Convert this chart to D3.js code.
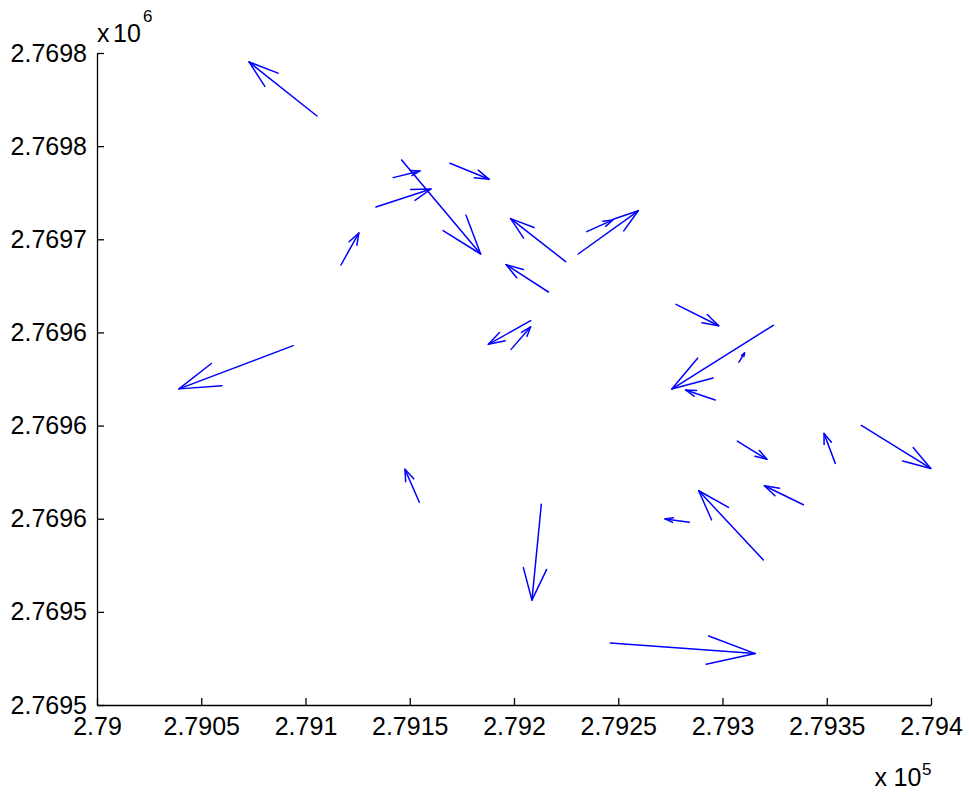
<!DOCTYPE html>
<html>
<head>
<meta charset="utf-8">
<script src="https://cdn.jsdelivr.net/npm/d3@7"></script>
<style>
  html, body { margin: 0; padding: 0; background: #fff; }
  svg { display: block; font-family: "Liberation Sans", Arial, Helvetica, sans-serif; }
</style>
</head>
<body>
<svg id="chart" width="969" height="792"></svg>
<script>
// Quiver data: tail positions (x, y) and displacement (u, v), data units
const xs = [279105.5, 279117.0, 279133.8, 279142.1, 279146.1, 279169.3, 279224.8, 279216.5,
            279230.8, 279234.9, 279208.0, 279198.6, 279277.7, 279324.4, 279307.9, 279296.5,
            279307.1, 279354.1, 279366.6, 279338.8, 279319.6, 279284.1, 279213.1, 279246.2,
            279094.1, 279154.6];
const ys = [2769816.2, 2769736.2, 2769767.3, 2769783.1, 2769792.6, 2769790.8, 2769738.0, 2769721.7,
            2769742.1, 2769754.1, 2769706.3, 2769690.9, 2769715.1, 2769703.8, 2769684.0, 2769663.7,
            2769641.6, 2769629.7, 2769650.1, 2769607.5, 2769577.8, 2769598.1, 2769607.7, 2769533.3,
            2769692.9, 2769608.8];
const us = [-32.6, 8.6, 26.4, 12.8, 37.9, 18.8, -26.4, -20.3,
            28.8, 12.5, -20.3, 9.4, 20.5, -48.7, 2.7, -14.2,
            14.2, -5.4, 33.3, -18.7, -31.0, -11.7, -4.5, 69.5,
            -54.8, -6.9];
const vs = [29.0, 17.2, 9.7, 3.6, -50.5, -8.6, 23.1, 14.7,
            23.2, 6.3, -12.7, 12.1, -11.5, -34.2, 5.0, 5.4,
            -9.7, 16.1, -23.1, 10.2, 37.2, 1.8, -51.4, -5.7,
            -23.2, 17.7];

const xTickValues = [279000, 279050, 279100, 279150, 279200, 279250, 279300, 279350, 279400];
const xTickLabels = ["2.79", "2.7905", "2.791", "2.7915", "2.792", "2.7925", "2.793", "2.7935", "2.794"];
const yTickValues = [2769500, 2769550, 2769600, 2769650, 2769700, 2769750, 2769800, 2769850];
const yTickLabels = ["2.7695", "2.7695", "2.7696", "2.7696", "2.7696", "2.7697", "2.7698", "2.7698"];

(function () {
const svg = d3.select("#chart");
const mLeft = 97, mRight = 931, mTop = 53, mBottom = 705;

const x = d3.scaleLinear().domain([279000, 279400]).range([mLeft, mRight]);
const y = d3.scaleLinear().domain([2769500, 2769850]).range([mBottom, mTop]);

// Arrows (MATLAB quiver style arrowheads computed in data units)
const alpha = 0.33, beta = 0.33;
const g = svg.append("g").attr("fill", "none").attr("stroke", "#0000ff")
  .attr("stroke-width", 1.5).attr("stroke-linecap", "round").attr("stroke-linejoin", "round");

xs.forEach((x0, i) => {
  const y0 = ys[i], u = us[i], v = vs[i];
  const hx = x0 + u, hy = y0 + v;
  g.append("line")
    .attr("x1", x(x0)).attr("y1", y(y0))
    .attr("x2", x(hx)).attr("y2", y(hy));
  const b1x = hx - alpha * (u + beta * v), b1y = hy - alpha * (v - beta * u);
  const b2x = hx - alpha * (u - beta * v), b2y = hy - alpha * (v + beta * u);
  g.append("path")
    .attr("d", `M${x(b1x)},${y(b1y)}L${x(hx)},${y(hy)}L${x(b2x)},${y(b2y)}`);
});

// Axes
const xAxis = d3.axisBottom(x).tickValues(xTickValues)
  .tickFormat((d, i) => xTickLabels[i]).tickSizeInner(-7).tickSizeOuter(0).tickPadding(12);
const yAxis = d3.axisLeft(y).tickValues(yTickValues)
  .tickFormat((d, i) => yTickLabels[i]).tickSizeInner(-7).tickSizeOuter(0).tickPadding(10);

const gx = svg.append("g").attr("transform", `translate(0,${mBottom})`).call(xAxis);
const gy = svg.append("g").attr("transform", `translate(${mLeft},0)`).call(yAxis);
[gx, gy].forEach(a => {
  a.selectAll("path, line").attr("stroke", "#000").attr("stroke-width", 1.3);
  a.selectAll("text").attr("fill", "#000").style("font-size", "25px")
    .style("font-family", '"Liberation Sans", Arial, Helvetica, sans-serif');
});

// Exponent labels
function expLabel(xx, base, xTen, sup, xSup, baseSup) {
  svg.append("text").attr("x", xx).attr("y", base).attr("font-size", 25).attr("fill", "#000").text("x");
  svg.append("text").attr("x", xTen).attr("y", base).attr("font-size", 25).attr("fill", "#000").text("10");
  svg.append("text").attr("x", xSup).attr("y", baseSup).attr("font-size", 17).attr("fill", "#000").text(sup);
}
expLabel(97, 42, 113, "6", 143, 22);
expLabel(874.5, 786, 893.5, "5", 922, 775);
})();
</script>
</body>
</html>
